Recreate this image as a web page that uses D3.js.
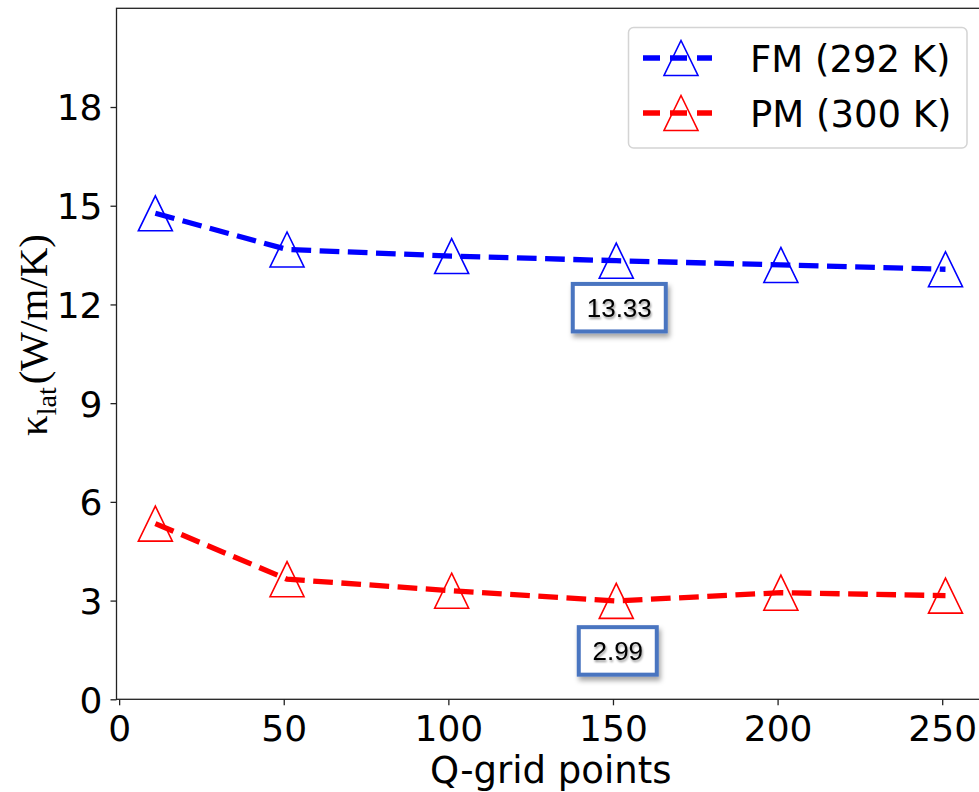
<!DOCTYPE html>
<html>
<head>
<meta charset="utf-8">
<script src="https://cdn.jsdelivr.net/npm/d3@7"></script>
<style>
  html, body { margin: 0; padding: 0; background: #fff; }
  svg { display: block; }
</style>
</head>
<body>
<svg id="chart" width="979" height="792"></svg>
<script>
// Q-grid convergence of lattice thermal conductivity
const qGrid = [11, 51, 101, 151, 201, 251];
const fmKappa = [14.77, 13.67, 13.47, 13.33, 13.20, 13.07];
const pmKappa = [5.34, 3.65, 3.30, 2.99, 3.24, 3.15];
const xTicks = [0, 50, 100, 150, 200, 250];
const yTicks = [0, 3, 6, 9, 12, 15, 18];
const seriesNames = ["FM (292 K)", "PM (300 K)"];
const seriesColors = ["#0000ff", "#ff0000"];
// highlighted values at the 151-point grid
const callouts = [
  { series: 0, index: 3, text: "13.33" },
  { series: 1, index: 3, text: "2.99" }
];

const svg = d3.select("#chart");
const plotLeft = 116.5, plotRight = 985, plotTop = 8.3, plotBottom = 699.3;

const x = d3.scaleLinear().domain([-0.8, 263]).range([plotLeft, plotRight]);
const y = d3.scaleLinear().domain([0, 21]).range([plotBottom, plotTop]);

const defs = svg.append("defs");
const box = defs.append("filter").attr("id", "boxShadow")
  .attr("x", "-30%").attr("y", "-30%").attr("width", "160%").attr("height", "170%");
box.append("feDropShadow").attr("dx", 2).attr("dy", 4).attr("stdDeviation", 2.5)
  .attr("flood-color", "#000").attr("flood-opacity", 0.35);
const txt = defs.append("filter").attr("id", "textShadow")
  .attr("x", "-20%").attr("y", "-30%").attr("width", "140%").attr("height", "170%");
txt.append("feDropShadow").attr("dx", 1).attr("dy", 2).attr("stdDeviation", 1.3)
  .attr("flood-color", "#000").attr("flood-opacity", 0.4);

// axes
const tickFont = "'DejaVu Sans', sans-serif";
const xAxis = svg.append("g").attr("transform", `translate(0,${plotBottom})`)
  .call(d3.axisBottom(x).tickValues(xTicks).tickSize(6).tickPadding(8));
const yAxis = svg.append("g").attr("transform", `translate(${plotLeft},0)`)
  .call(d3.axisLeft(y).tickValues(yTicks).tickSize(6).tickPadding(8));
[xAxis, yAxis].forEach(g => {
  g.select(".domain").remove();
  g.selectAll(".tick line").attr("stroke", "#222").attr("stroke-width", 1.3);
  g.selectAll(".tick text").attr("fill", "#000")
    .style("font-family", tickFont).style("font-size", "36px");
});
xAxis.selectAll(".tick text").attr("dy", "0.78em");
yAxis.selectAll(".tick text").attr("dy", "0.36em");

// frame (top, left, bottom; right edge lies beyond the canvas)
svg.append("rect")
  .attr("x", plotLeft).attr("y", plotTop)
  .attr("width", plotRight - plotLeft).attr("height", plotBottom - plotTop)
  .attr("fill", "none").attr("stroke", "#222").attr("stroke-width", 1.3);

// axis titles
svg.append("text")
  .attr("x", (plotLeft + plotRight) / 2).attr("y", 783)
  .attr("text-anchor", "middle")
  .style("font-family", tickFont).style("font-size", "37px")
  .text("Q-grid points");

const yl = svg.append("text")
  .attr("transform", "translate(47,335) rotate(-90)")
  .attr("text-anchor", "middle")
  .style("font-family", "'Liberation Serif', 'Times New Roman', serif")
  .style("font-size", "41px");
yl.append("tspan").text("κ");
yl.append("tspan").attr("dy", 9).style("font-size", "28px").text("lat");
yl.append("tspan").attr("dy", -9).attr("dx", 3).text("(W/m/K)");

// series
const allSeries = [fmKappa, pmKappa];
const line = d3.line().x((d, i) => x(qGrid[i])).y(d => y(d));
// open triangle marker, 34 px wide and 35 px tall, centred on the point
const triangle = d3.path();
triangle.moveTo(0, -17.5);
triangle.lineTo(17, 17.5);
triangle.lineTo(-17, 17.5);
triangle.closePath();
const tri = triangle.toString();

allSeries.forEach((vals, s) => {
  svg.append("path").datum(vals)
    .attr("d", line)
    .attr("fill", "none")
    .attr("stroke", seriesColors[s])
    .attr("stroke-width", 5.3)
    .attr("stroke-dasharray", "19.7 8.5");
  svg.append("g").selectAll("path").data(vals).join("path")
    .attr("d", tri)
    .attr("transform", (d, i) => `translate(${x(qGrid[i])},${y(d)})`)
    .attr("fill", "none")
    .attr("stroke", seriesColors[s])
    .attr("stroke-width", 1.6);
});

// callout boxes
callouts.forEach(c => {
  const cx = x(qGrid[c.index]) + (c.series === 0 ? 3 : 1.5);
  const cy = y(allSeries[c.series][c.index]) + (c.series === 0 ? 47 : 50);
  const w = c.text.length > 4 ? 93 : 78, h = 47.5;
  svg.append("rect")
    .attr("x", cx - w / 2).attr("y", cy - h / 2)
    .attr("width", w).attr("height", h)
    .attr("fill", "#fff")
    .attr("stroke", "#4a74c0").attr("stroke-width", 4)
    .attr("filter", "url(#boxShadow)");
  svg.append("text")
    .attr("x", cx).attr("y", cy + 9.5)
    .attr("text-anchor", "middle")
    .style("font-family", "'Liberation Sans', Arial, sans-serif")
    .style("font-size", "26px")
    .attr("fill", "#000")
    .attr("filter", "url(#textShadow)")
    .text(c.text);
});

// legend
const lg = svg.append("g");
lg.append("rect")
  .attr("x", 628.5).attr("y", 27.5).attr("width", 338.5).attr("height", 120.5)
  .attr("rx", 5).attr("fill", "#fff").attr("fill-opacity", 0.85)
  .attr("stroke", "#d4d4d4").attr("stroke-width", 1.5);
seriesNames.forEach((name, i) => {
  const ly = 58 + i * 55;
  lg.append("line")
    .attr("x1", 643).attr("x2", 712).attr("y1", ly).attr("y2", ly)
    .attr("stroke", seriesColors[i]).attr("stroke-width", 5.3)
    .attr("stroke-dasharray", "17 10");
  lg.append("path").attr("d", tri)
    .attr("transform", `translate(681,${ly})`)
    .attr("fill", "none").attr("stroke", seriesColors[i]).attr("stroke-width", 1.6);
  lg.append("text")
    .attr("x", 750).attr("y", ly + 13.5)
    .style("font-family", tickFont).style("font-size", "37px")
    .text(name);
});
</script>
</body>
</html>
